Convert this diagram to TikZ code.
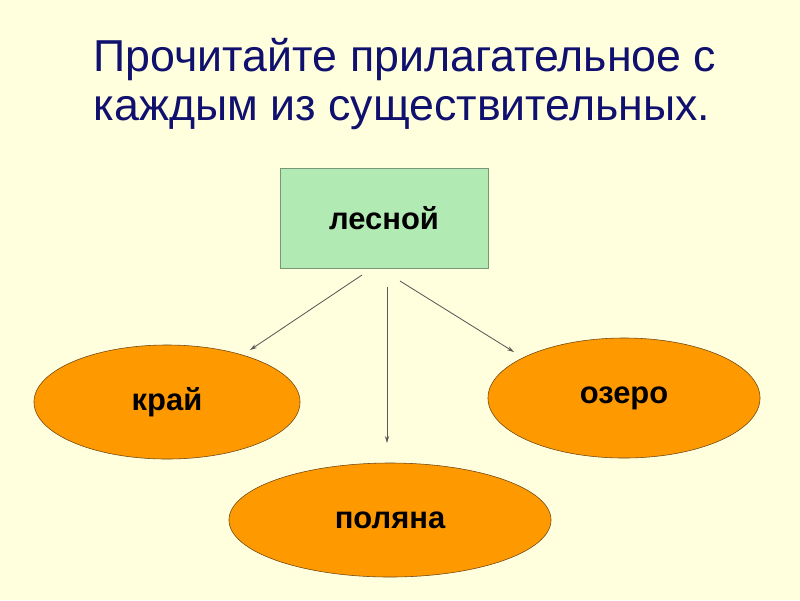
\documentclass[tikz,border=0pt]{standalone}
\usepackage{fontspec}
\setmainfont{Liberation Sans}
\usetikzlibrary{shapes.geometric,arrows.meta}

\definecolor{slidebg}{RGB}{255,255,221}
\definecolor{titleblue}{RGB}{16,16,110}
\definecolor{boxgreen}{RGB}{178,234,180}
\definecolor{boxedge}{RGB}{120,150,120}
\definecolor{nounorange}{RGB}{255,153,0}
\definecolor{nounedge}{RGB}{110,70,20}
\definecolor{arrowgrey}{RGB}{90,90,90}

\begin{document}
\begin{tikzpicture}[x=0.025cm,y=-0.025cm,>={Stealth[length=5pt,width=3pt]}]
    \tikzset{
        adj/.style={
            draw=boxedge,
            fill=boxgreen,
            minimum width=5.2cm,
            minimum height=2.5cm,
            font=\fontsize{22}{26}\selectfont\bfseries
        },
        noun/.style={
            ellipse,
            draw=nounedge,
            fill=nounorange,
            inner sep=0pt,
            font=\fontsize{22}{26}\selectfont\bfseries
        },
        link/.style={->,draw=arrowgrey,line width=0.6pt}
    }

    \fill[slidebg] (0,0) rectangle (800,600);

    \node[align=left,text=titleblue,font=\fontsize{31.8}{35}\selectfont]
        (title) at (405,84)
        {Прочитайте прилагательное с\\каждым из существительных.};

    \node[adj] (lesnoy) at (384,218) {лесной};

    \node[noun,minimum width=6.65cm,minimum height=2.85cm] (kray) at (167,402) {край};
    \node[noun,minimum width=6.8cm,minimum height=3.0cm] (ozero) at (624,398) {озеро};
    \node[noun,minimum width=8.05cm,minimum height=2.85cm] (polyana) at (390,520) {поляна};

    \coordinate (fromkray) at (362,275);
    \coordinate (tokray) at (250,350);
    \coordinate (frompolyana) at (387,287);
    \coordinate (topolyana) at (387,443);
    \coordinate (fromozero) at (400,281);
    \coordinate (toozero) at (514,352);

    \draw[link] (fromkray) -- (tokray);
    \draw[link] (frompolyana) -- (topolyana);
    \draw[link] (fromozero) -- (toozero);
\end{tikzpicture}
\end{document}
